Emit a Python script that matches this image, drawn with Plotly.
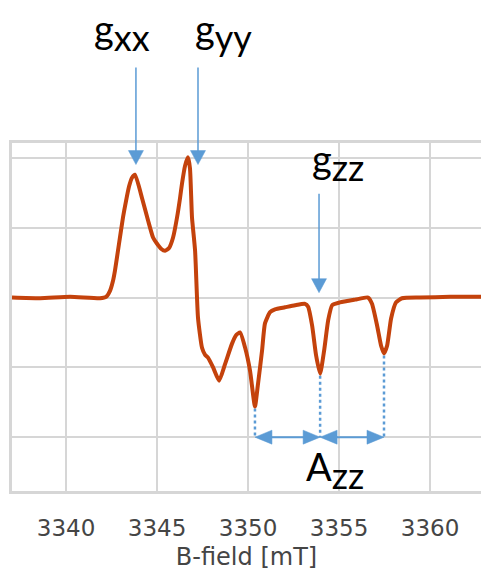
import numpy as np
import plotly.graph_objects as go

# EPR spectrum (first-derivative), field in mT
b_field = [3337.03, 3338.57, 3340.22, 3341.87, 3342.20, 3342.42, 3342.58, 3342.69,
           3342.91, 3343.13, 3343.30, 3343.46, 3343.63, 3343.79,
           3344.18, 3344.51, 3344.78, 3345.00, 3345.22, 3345.44, 3345.66, 3345.88,
           3346.10, 3346.26, 3346.37, 3346.54, 3346.70, 3346.81, 3346.92,
           3347.09, 3347.25, 3347.47, 3347.64, 3347.80, 3348.08, 3348.41, 3348.74,
           3349.12, 3349.34, 3349.56, 3349.84, 3350.11, 3350.38, 3350.55, 3350.77,
           3350.93, 3351.21, 3351.48, 3352.03, 3352.58, 3353.13, 3353.30, 3353.52,
           3353.74, 3353.96, 3354.18, 3354.40, 3354.62, 3355.05, 3355.88, 3356.59,
           3356.81, 3357.09, 3357.31, 3357.47, 3357.64, 3357.86, 3358.13, 3358.46,
           3359.45, 3361.10, 3362.80]
signal = [0.00, -0.01, 0.01, -0.01, 0.01, 0.10, 0.24, 0.39,
          0.77, 1.15, 1.39, 1.59, 1.72, 1.76,
          1.42, 1.10, 0.86, 0.77, 0.70, 0.67, 0.71, 0.86,
          1.15, 1.42, 1.63, 1.89, 2.01, 1.85, 1.15,
          0.67, -0.29, -0.72, -0.82, -0.86, -1.00, -1.19, -0.95,
          -0.66, -0.54, -0.50, -0.72, -1.05, -1.56, -1.23, -0.76,
          -0.37, -0.21, -0.17, -0.14, -0.11, -0.09, -0.13, -0.40,
          -0.83, -1.09, -0.76, -0.33, -0.11, -0.07, -0.03, 0.00,
          -0.09, -0.40, -0.69, -0.80, -0.69, -0.30, -0.07, -0.01,
          0.00, 0.01, 0.01]

x_ticks = [3340, 3345, 3350, 3355, 3360]
x_title = "B-field [mT]"

CURVE = "#C4420C"
BLUE = "#5B9BD5"
GRID = "#d6d6d6"

X_RANGE = [3337.03, 3362.80]
Y_RANGE = [-2.771, 2.214]
PLOT_W, PLOT_H = 469, 348  # plot-area size in pixels

bx = np.array(b_field)
sy = np.array(signal)


def paper_x(x):
    return (x - X_RANGE[0]) / (X_RANGE[1] - X_RANGE[0])


def paper_y(y):
    return (y - Y_RANGE[0]) / (Y_RANGE[1] - Y_RANGE[0])


# g-tensor feature positions
gxx_x = bx[np.argmax(np.where(bx < 3345, sy, -9))] + 0.05
gyy_x = 3347.25
gzz_x = 3353.90

# hyperfine minima of the parallel region
windows = [(3349.9, 3351.0), (3353.5, 3354.5), (3357.0, 3358.0)]
hf_idx = []
for lo, hi in windows:
    m = np.where((bx >= lo) & (bx <= hi))[0]
    hf_idx.append(m[np.argmin(sy[m])])
hf_x = bx[hf_idx]
hf_y = sy[hf_idx]
base_y = -2

fig = go.Figure()

for xv, yv in zip(hf_x, hf_y):
    fig.add_trace(go.Scatter(x=[xv, xv], y=[yv - 0.03, base_y], mode="lines",
                             line=dict(color=BLUE, width=2.5, dash="dot"),
                             hoverinfo="skip", showlegend=False))

fig.add_trace(go.Scatter(x=b_field, y=signal, mode="lines",
                         line=dict(color=CURVE, width=4, shape="spline", smoothing=0.5),
                         showlegend=False))

shapes = []


def down_arrow(x, tip_y, length_px, head_len=14, head_half=7.5, width=1.5):
    """Vertical arrow pointing down; tip at data (x, tip_y)."""
    px_, ty = paper_x(x), paper_y(tip_y)
    hl, hw = head_len / PLOT_H, head_half / PLOT_W
    top = ty + length_px / PLOT_H
    shapes.append(dict(type="line", xref="paper", yref="paper", x0=px_, x1=px_,
                       y0=top, y1=ty + hl * 0.5, line=dict(color=BLUE, width=width)))
    shapes.append(dict(type="path", xref="paper", yref="paper",
                       path=f"M{px_ - hw},{ty + hl} L{px_ + hw},{ty + hl} L{px_},{ty} Z",
                       fillcolor=BLUE, line=dict(color=BLUE, width=0.5)))


def double_arrow(xa, xb, y, head_len=17, head_half=7, width=2):
    """Horizontal double-headed arrow between data x positions at data y."""
    pa, pb, pyv = paper_x(xa), paper_x(xb), paper_y(y)
    hl, hw = head_len / PLOT_W, head_half / PLOT_H
    shapes.append(dict(type="line", xref="paper", yref="paper", x0=pa + hl * 0.5,
                       x1=pb - hl * 0.5, y0=pyv, y1=pyv, line=dict(color=BLUE, width=width)))
    shapes.append(dict(type="path", xref="paper", yref="paper",
                       path=f"M{pa},{pyv} L{pa + hl},{pyv + hw} L{pa + hl},{pyv - hw} Z",
                       fillcolor=BLUE, line=dict(color=BLUE, width=0.5)))
    shapes.append(dict(type="path", xref="paper", yref="paper",
                       path=f"M{pb},{pyv} L{pb - hl},{pyv + hw} L{pb - hl},{pyv - hw} Z",
                       fillcolor=BLUE, line=dict(color=BLUE, width=0.5)))


down_arrow(gxx_x, 1.905, 97)
down_arrow(gyy_x, 1.905, 97)
down_arrow(gzz_x, 0.07, 99)
double_arrow(hf_x[0], hf_x[1], base_y)
double_arrow(hf_x[1], hf_x[2], base_y)

label_font = dict(family="Lato, Carlito, sans-serif", size=38, color="black")
sub = "<sub><span style='font-size:36px'>{}</span></sub>"

annotations = []
for txt, xv, yv in [("g" + sub.format("xx"), 3343.08, 1.32),
                    ("g" + sub.format("yy"), 3348.63, 1.32),
                    ("g" + sub.format("zz"), 3354.95, 0.945),
                    ("A" + sub.format("zz"), 3354.8, 0.06)]:
    annotations.append(dict(x=xv, y=yv, xref="x", yref="paper", text=txt,
                            showarrow=False, font=label_font,
                            xanchor="center", yanchor="middle"))

fig.update_layout(
    width=481, height=571,
    margin=dict(l=12, r=0, t=143, b=80),
    paper_bgcolor="white", plot_bgcolor="white",
    annotations=annotations,
    shapes=shapes,
    xaxis=dict(range=X_RANGE, tickvals=x_ticks, ticktext=[str(t) for t in x_ticks],
               showgrid=True, gridcolor=GRID, gridwidth=2, zeroline=False,
               showline=True, linecolor=GRID, linewidth=3, mirror=True,
               ticks="", ticklabelstandoff=14,
               tickfont=dict(family="DejaVu Sans", size=23, color="#454545"),
               title=dict(text=x_title, standoff=10,
                          font=dict(family="DejaVu Sans", size=24, color="#454545"))),
    yaxis=dict(range=Y_RANGE, dtick=1, tick0=0, showticklabels=False,
               showgrid=True, gridcolor=GRID, gridwidth=2, zeroline=False,
               showline=True, linecolor=GRID, linewidth=3, mirror=False, ticks=""),
)

fig.write_html("out.html")
